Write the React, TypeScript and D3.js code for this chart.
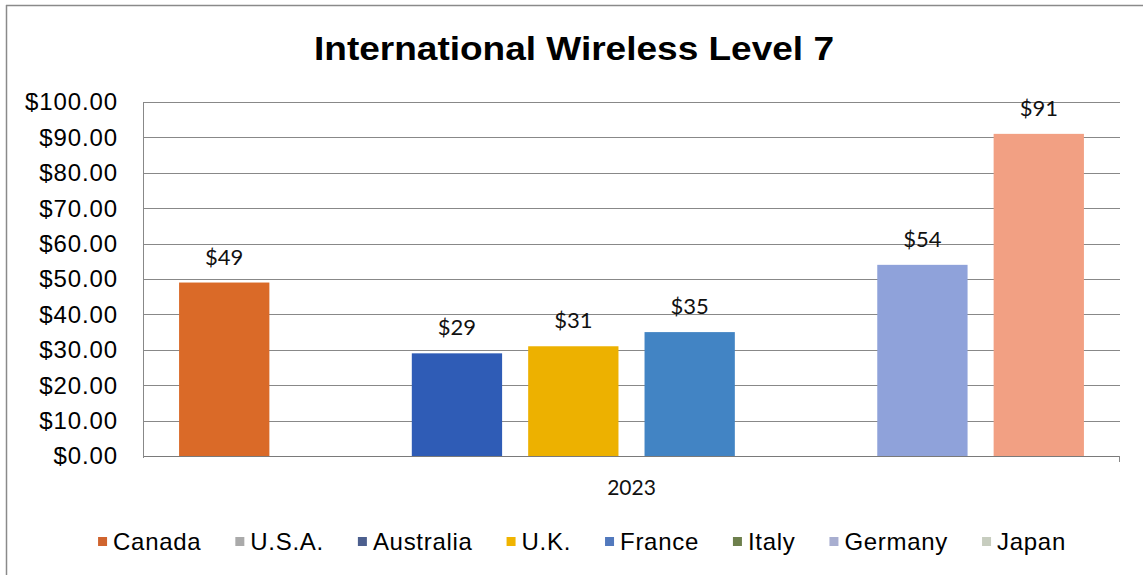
import React, { useMemo } from 'react';
import * as d3 from 'd3';

const categories = ['2023'];
const seriesNames = ['Canada', 'U.S.A.', 'Australia', 'U.K.', 'France', 'Italy', 'Germany', 'Japan'];
const seriesValues: (number | null)[] = [49, null, 29, 31, 35, null, 54, 91];
const barColors = ['#DA6A28', '#A5A5A5', '#2F5CB6', '#EDB100', '#4284C4', '#6E8A4A', '#8FA2DA', '#F2A083'];
const legendColors = ['#D0642E', '#AAAAAA', '#4C5F8E', '#F0B400', '#5279BD', '#6D7F4C', '#A8AED0', '#C7CDBF'];
const yTicks = [0, 10, 20, 30, 40, 50, 60, 70, 80, 90, 100];
const title = 'International Wireless Level 7';

const W = 1143;
const H = 575;
const plot = { left: 143, right: 1120, top: 102, bottom: 456 };

const legendFont = "24px 'Liberation Sans', Arial, sans-serif";
const legendSpacing = 0.7;

function measure(text: string, font: string, spacing: number) {
  const c = document.createElement('canvas').getContext('2d')!;
  c.font = font;
  return c.measureText(text).width + spacing * text.length;
}

export default function App() {
  const y = d3.scaleLinear().domain([0, 100]).range([plot.bottom, plot.top]);
  const x0 = d3.scaleBand<string>().domain(categories).range([plot.left, plot.right]).padding(0);
  const x1 = d3
    .scaleBand<string>()
    .domain(seriesNames)
    .range([0, x0.bandwidth()])
    .paddingInner(0.224)
    .paddingOuter(0.31);

  const legendItems = useMemo(() => {
    const markerW = 9;
    const textGap = 6;
    const itemGap = 34;
    const widths = seriesNames.map((s) => measure(s, legendFont, legendSpacing));
    const total =
      widths.reduce((a, b) => a + b, 0) + seriesNames.length * (markerW + textGap) + (seriesNames.length - 1) * itemGap;
    let cx = 582 - total / 2;
    return seriesNames.map((s, i) => {
      const item = { name: s, color: legendColors[i], x: cx };
      cx += markerW + textGap + widths[i] + itemGap;
      return item;
    });
  }, []);

  return (
    <svg
      width={W}
      height={H}
      style={{ position: 'absolute', left: 0, top: 0, display: 'block', background: '#fff' }}
    >
      <rect x={0} y={0} width={W} height={H} fill="#ffffff" />
      {/* outer frame */}
      <line x1={6} y1={5.5} x2={W} y2={5.5} stroke="#8a8a8a" strokeWidth={1.5} />
      <line x1={6.5} y1={5} x2={6.5} y2={H} stroke="#8a8a8a" strokeWidth={1.5} />

      <text
        x={574}
        y={60}
        textAnchor="middle"
        fontFamily="'Liberation Sans', Arial, sans-serif"
        fontWeight="bold"
        fontSize={34}
        textLength={520}
        lengthAdjust="spacingAndGlyphs"
        fill="#000"
      >
        {title}
      </text>

      {/* gridlines */}
      {yTicks.map((t) => (
        <line
          key={'g' + t}
          x1={plot.left}
          x2={plot.right}
          y1={Math.round(y(t)) + 0.5}
          y2={Math.round(y(t)) + 0.5}
          stroke={t === 0 ? '#7a7a7a' : '#888888'}
          strokeWidth={1}
        />
      ))}
      <line x1={plot.left + 0.5} x2={plot.left + 0.5} y1={plot.top} y2={plot.bottom + 2} stroke="#888888" />
      <line x1={plot.right - 0.5} x2={plot.right - 0.5} y1={plot.bottom} y2={plot.bottom + 6} stroke="#888888" />

      {/* y tick labels */}
      {yTicks.map((t) => (
        <text
          key={'t' + t}
          x={118}
          y={y(t)}
          dy="0.35em"
          textAnchor="end"
          fontFamily="'Liberation Sans', Arial, sans-serif"
          fontSize={24}
          letterSpacing={0.9}
          fill="#000"
        >
          {d3.format('$.2f')(t)}
        </text>
      ))}

      {/* bars */}
      {categories.map((c) => (
        <g key={c} transform={`translate(${x0(c)},0)`}>
          {seriesNames.map((s, i) => {
            const v = seriesValues[i];
            if (v == null) return null;
            const bx = x1(s)!;
            return (
              <g key={s}>
                <rect x={bx} y={y(v)} width={x1.bandwidth()} height={y(0) - y(v)} fill={barColors[i]} />
                <text
                  x={bx + x1.bandwidth() / 2}
                  y={y(v) - 18}
                  textAnchor="middle"
                  fontFamily="Lato, 'Open Sans', sans-serif"
                  fontSize={22}
                  fill="#111"
                >
                  {d3.format('$.0f')(v)}
                </text>
              </g>
            );
          })}
          <text
            x={x0.bandwidth() / 2}
            y={495}
            textAnchor="middle"
            fontFamily="Lato, 'Open Sans', sans-serif"
            fontSize={21}
            fill="#111"
          >
            {c}
          </text>
        </g>
      ))}

      {/* legend */}
      {legendItems.map((it) => (
        <g key={it.name} transform={`translate(${it.x},0)`}>
          <rect x={0} y={537} width={9} height={9} fill={it.color} />
          <text
            x={15}
            y={550}
            fontFamily="'Liberation Sans', Arial, sans-serif"
            fontSize={24}
            letterSpacing={legendSpacing}
            fill="#000"
          >
            {it.name}
          </text>
        </g>
      ))}
    </svg>
  );
}
